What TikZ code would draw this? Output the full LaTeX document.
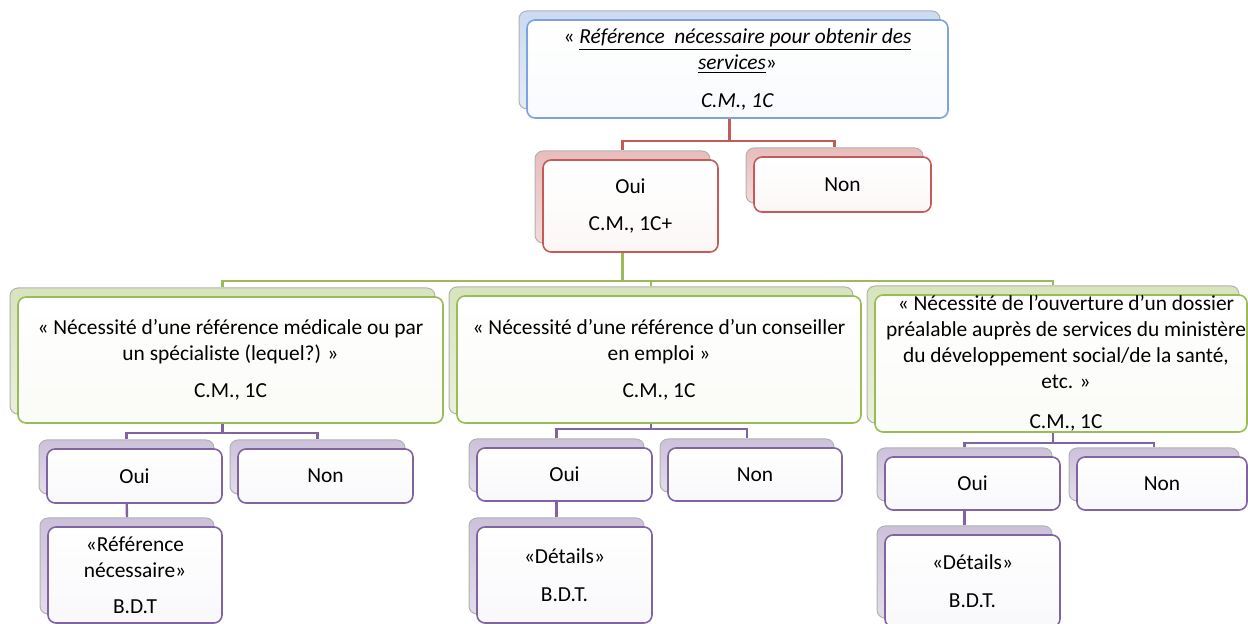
\documentclass[tikz,border=0pt]{standalone}
\usepackage{fontspec}
\setmainfont{Carlito}
\usetikzlibrary{backgrounds}
\definecolor{cBlue}{HTML}{7EA3DC}
\definecolor{cRed}{HTML}{C55A58}
\definecolor{cGreen}{HTML}{9BBB59}
\definecolor{cPurple}{HTML}{8064A2}
\tikzset{
  front/.style={draw=#1, line width=0.8pt, rounded corners=4pt, top color=white, bottom color=#1!5!white, inner sep=0pt, align=center, font=\fontsize{10.7}{13}\selectfont},
  back/.style={draw=gray!60, line width=0.5pt, rounded corners=4pt, top color=#1!40!white, bottom color=#1!22!white, inner sep=0pt},
  txt/.style={inner sep=0pt, align=center, font=\fontsize{10.7}{13}\selectfont},
  link/.style={draw=#1, line width=1.2pt},
}
% #1 colour, #2 name, #3 x1, #4 y1, #5 x2, #6 y2, #7 text
\newcommand\mycard[7]{%
  \node[back=#1, minimum width={(#5-#3)*0.5pt}, minimum height={(#6-#4)*0.5pt}] (#2b) at ({(#3+#5)/2-8},{(#4+#6)/2-9}) {};
  \node[front=#1, minimum width={(#5-#3)*0.5pt}, minimum height={(#6-#4)*0.5pt}] (#2) at ({(#3+#5)/2},{(#4+#6)/2}) {#7};
}
\begin{document}
\begin{tikzpicture}[x=0.5pt,y=-0.5pt]
\path[use as bounding box, clip] (0,0) rectangle (1248,624);

\mycard{cBlue}{top}{527}{20}{948}{118}{« \underline{\textit{Référence\ \ nécessaire pour obtenir des}}\\\underline{\textit{services}}»\\[6pt]\textit{C.M., 1C}}

\mycard{cRed}{ouiR}{543}{160}{718}{252}{Oui\\[5.5pt]C.M., 1C+}
\mycard{cRed}{nonR}{754}{157}{931}{212}{Non}

\mycard{cGreen}{gA}{18}{297}{443}{423}{« Nécessité d’une  référence médicale ou par\\un spécialiste (lequel?) »\\[5.5pt]C.M., 1C}
\mycard{cGreen}{gB}{457}{296}{861}{423}{« Nécessité d’une  référence d’un conseiller\\en emploi »\\[5.5pt]C.M., 1C}
\mycard{cGreen}{gC}{875}{295}{1247}{432}{}
\node[txt] (gCt) at (1066,363.5) {« Nécessité de l’ouverture d’un dossier\\préalable auprès de services du ministère\\du développement social/de la santé,\\etc. »\\[7pt]C.M., 1C};

\mycard{cPurple}{pAoui}{47}{449}{222}{503}{Oui}
\mycard{cPurple}{pAnon}{238}{449}{413}{503}{Non}
\mycard{cPurple}{pAref}{48}{527}{222}{623}{«Référence\\nécessaire»\\[5pt]B.D.T}

\mycard{cPurple}{pBoui}{477}{448}{652}{501}{Oui}
\mycard{cPurple}{pBnon}{668}{448}{842}{501}{Non}
\mycard{cPurple}{pBdet}{477}{527}{652}{623}{«Détails»\\[6pt]B.D.T.}

\mycard{cPurple}{pCoui}{885}{457}{1060}{510}{Oui}
\mycard{cPurple}{pCnon}{1077}{457}{1247}{510}{Non}
\mycard{cPurple}{pCdet}{885}{535}{1060}{627}{«Détails»\\[6pt]B.D.T.}

\coordinate (busR) at (0,141);
\coordinate (busG) at (0,281);
\coordinate (busA) at (0,433);
\coordinate (busB) at (0,429);
\coordinate (busC) at (0,443);

\begin{scope}[on background layer]
  \draw[link=cRed] (topb.south) -- (topb.south |- busR) -| (ouiRb.north);
  \draw[link=cRed] (topb.south |- busR) -| (nonRb.north);
  \draw[link=cGreen] (ouiRb.south) -- (ouiRb.south |- busG) -| (gAb.north);
  \draw[link=cGreen] (ouiRb.south |- busG) -| (gBb.north);
  \draw[link=cGreen] (ouiRb.south |- busG) -| (gCb.north);
  \draw[link=cPurple] (gAb.south) -- (gAb.south |- busA) -| (pAouib.north);
  \draw[link=cPurple] (gAb.south |- busA) -| (pAnonb.north);
  \draw[link=cPurple] (gBb.south) -- (gBb.south |- busB) -| (pBouib.north);
  \draw[link=cPurple] (gBb.south |- busB) -| (pBnonb.north);
  \draw[link=cPurple] (gCb.south) -- (gCb.south |- busC) -| (pCouib.north);
  \draw[link=cPurple] (gCb.south |- busC) -| (pCnonb.north);
  \draw[link=cPurple] (pAouib.south) -- (pArefb.north);
  \draw[link=cPurple] (pBouib.south) -- (pBdetb.north);
  \draw[link=cPurple] (pCouib.south) -- (pCdetb.north);
\end{scope}
\end{tikzpicture}
\end{document}
